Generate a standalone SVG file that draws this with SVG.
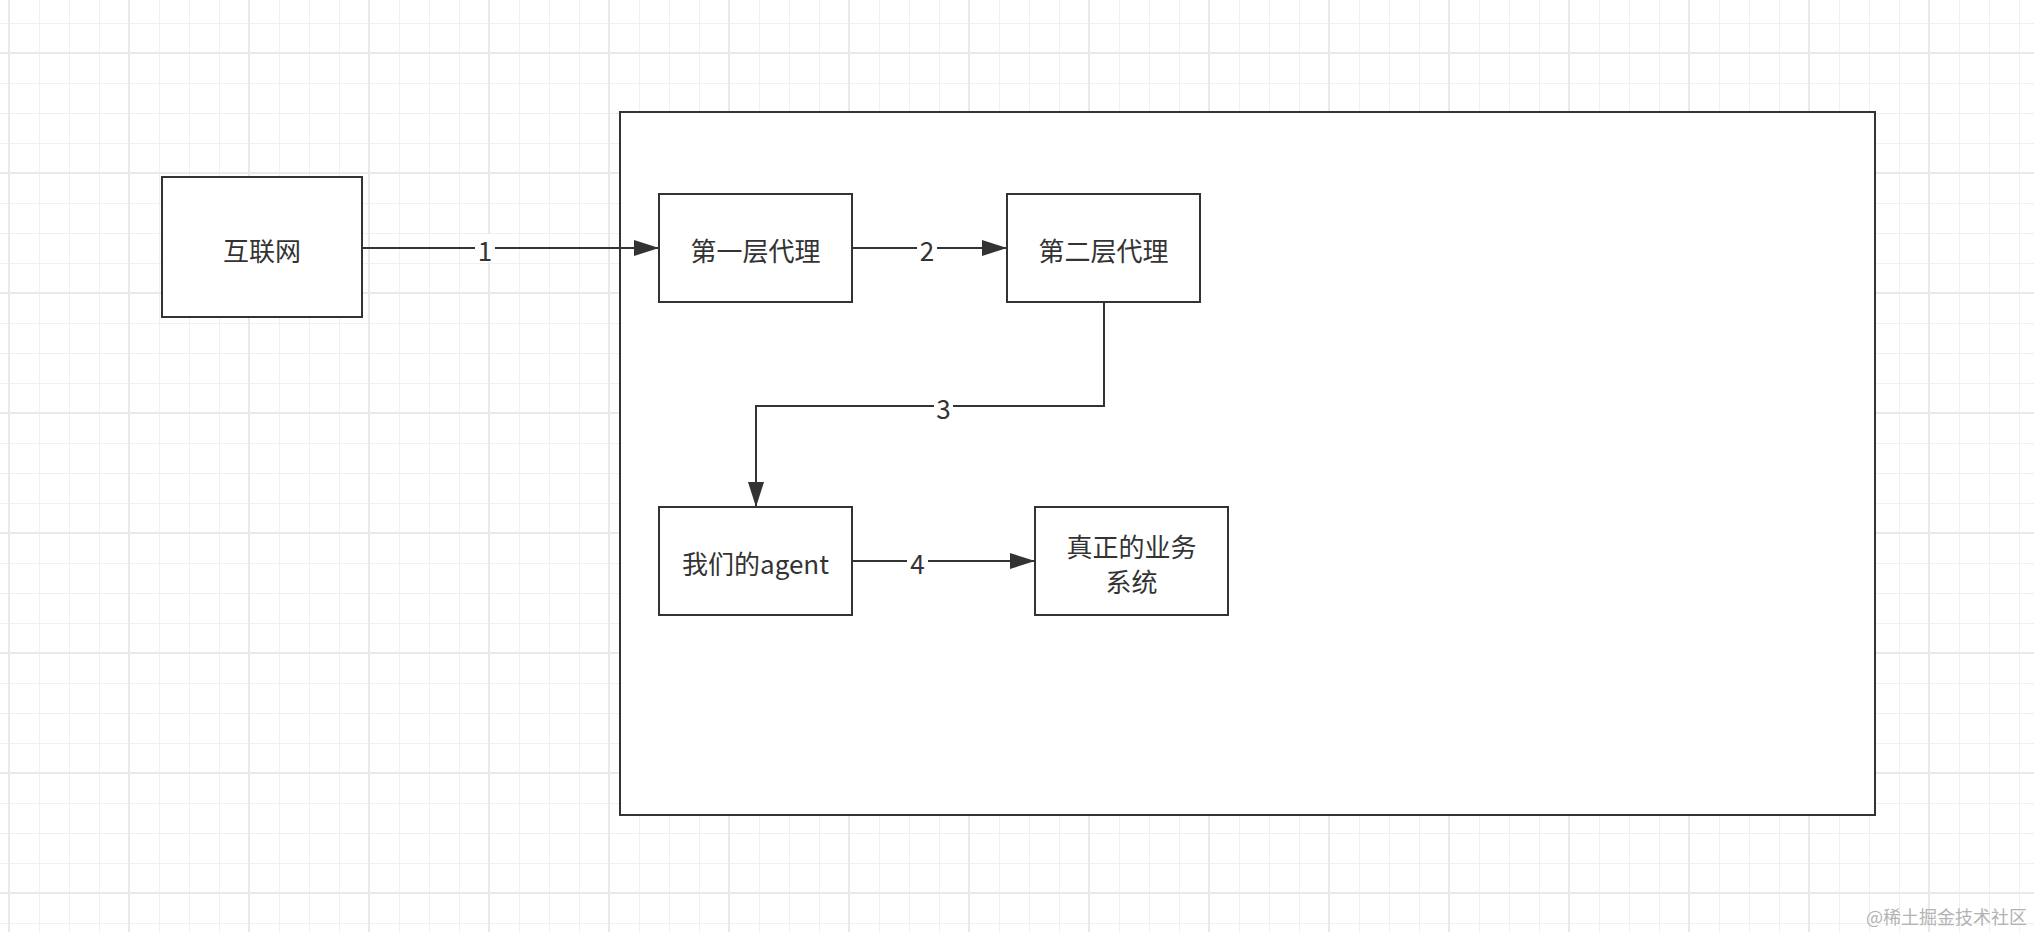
<svg xmlns="http://www.w3.org/2000/svg" width="2034" height="932" viewBox="0 0 2034 932">
<style>
.box{fill:#ffffff;stroke:#333333;stroke-width:2}
.txt{font-family:"Noto Sans CJK SC","Microsoft YaHei",sans-serif;font-size:26px;fill:#333333;text-anchor:middle;dominant-baseline:central}
.edge{fill:none;stroke:#333333;stroke-width:2}
.lbl{font-family:"Noto Sans CJK SC",sans-serif;font-size:26px;fill:#333333;text-anchor:middle;dominant-baseline:central}
.lblbg{fill:#ffffff}
</style>
<defs>
<pattern id="minor" patternUnits="userSpaceOnUse" x="9" y="23" width="30" height="30">
<path d="M0 0.5H30M0.5 0V30" stroke="#f0f0f0" stroke-width="1" fill="none"/>
</pattern>
<pattern id="major" patternUnits="userSpaceOnUse" x="128" y="52" width="120" height="120">
<path d="M0 1H120M1 0V120" stroke="#e9e9e9" stroke-width="2" fill="none"/>
</pattern>
<marker id="arrow" markerUnits="userSpaceOnUse" markerWidth="26" markerHeight="18" refX="25" refY="8.5" orient="auto">
<path d="M0 0.5L25 8.5L0 16.5Z" fill="#333333"/>
</marker>
</defs>
<rect width="2034" height="932" fill="#ffffff"/>
<rect width="2034" height="932" fill="url(#minor)"/>
<rect width="2034" height="932" fill="url(#major)"/>
<g id="container"><rect class="box" x="620" y="112" width="1255" height="703"/></g>
<g id="internet"><rect class="box" x="162" y="177" width="200" height="140"/><text class="txt" x="262" y="249">互联网</text></g>
<g id="proxy1"><rect class="box" x="659" y="194" width="193" height="108"/><text class="txt" x="755.5" y="249">第一层代理</text></g>
<g id="proxy2"><rect class="box" x="1007" y="194" width="193" height="108"/><text class="txt" x="1103.5" y="249">第二层代理</text></g>
<g id="agent"><rect class="box" x="659" y="507" width="193" height="108"/><text class="txt" x="755.5" y="562">我们的agent</text></g>
<g id="business"><rect class="box" x="1035" y="507" width="193" height="108"/><text class="txt" x="1131.5" y="545">真正的业务</text><text class="txt" x="1131.5" y="580">系统</text></g>
<g id="connectors">
<path class="edge" d="M362 248H659" marker-end="url(#arrow)"/>
<path class="edge" d="M852 248H1007" marker-end="url(#arrow)"/>
<path class="edge" d="M1104 302V406H756V507" marker-end="url(#arrow)"/>
<path class="edge" d="M852 561H1035" marker-end="url(#arrow)"/>
<rect class="lblbg" x="475" y="234" width="20" height="28"/><text class="lbl" x="485" y="249">1</text>
<rect class="lblbg" x="917" y="234" width="20" height="28"/><text class="lbl" x="927" y="249">2</text>
<rect class="lblbg" x="934" y="392" width="19" height="28"/><text class="lbl" x="943.5" y="407">3</text>
<rect class="lblbg" x="907" y="547" width="21" height="28"/><text class="lbl" x="917.5" y="562">4</text>
</g>
<text x="2027" y="916" font-family="Noto Sans CJK SC,sans-serif" font-size="18" fill="#b3b3b3" text-anchor="end" dominant-baseline="central">@稀土掘金技术社区</text>
</svg>
